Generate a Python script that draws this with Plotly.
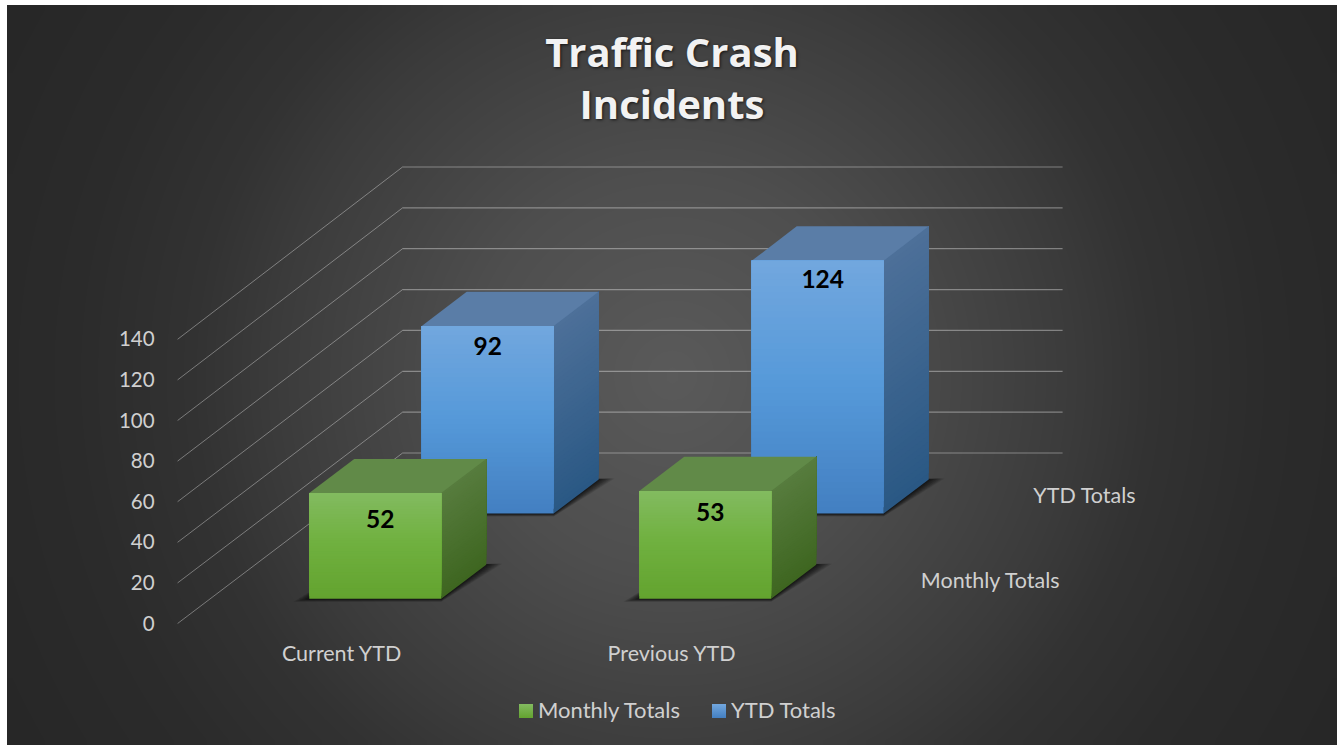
import numpy as np
import plotly.graph_objects as go

# ---- data ----
title_text = "Traffic Crash<br>Incidents"
categories = ["Current YTD", "Previous YTD"]
series_names = ["Monthly Totals", "YTD Totals"]
monthly_totals = [52, 53]
ytd_totals = [92, 124]
value_ticks = [0, 20, 40, 60, 80, 100, 120, 140]

# ---- oblique projection of the 3-D column chart ----
X0, Y0 = 177.6, 623.5      # front-left floor corner
PLOT_W = 660.0             # width of all categories
DEPTH_DX, DEPTH_DY = 225.0, -170.5
PX_FRONT, PX_BACK = 2.03, 2.043
BAR_FRAC = 0.4
DEPTH_FRAC = 0.2


def proj(cat, depth, value):
    """cat in category units, depth in 0..1, value in data units."""
    cw = PLOT_W / len(categories)
    scale = PX_FRONT + (PX_BACK - PX_FRONT) * depth
    return (X0 + cat * cw + depth * DEPTH_DX,
            Y0 + depth * DEPTH_DY - value * scale)


def css(c):
    return "rgb(%d,%d,%d)" % tuple(round(v) for v in c)


def ramp(stops, t):
    xs = [s[0] for s in stops]
    return tuple(np.interp(t, xs, [s[1][i] for s in stops]) for i in range(3))


STYLES = {
    0: dict(front=[(0, (131, 187, 96)), (.45, (112, 177, 64)), (1, (99, 163, 47))],
            side=[(0, (87, 124, 62)), (1, (62, 102, 32))],
            top=(97, 138, 72)),
    1: dict(front=[(0, (114, 167, 222)), (.5, (85, 153, 217)), (1, (67, 127, 193))],
            side=[(0, (77, 112, 153)), (1, (42, 88, 132))],
            top=(90, 125, 167)),
}

fig = go.Figure()

# ---- background radial gradient ----
bgx = np.linspace(12, 1332, 133)
bgy = np.linspace(10, 740, 74)
gx, gy = np.meshgrid(bgx, bgy)
r = np.hypot(gx - 672, gy - 375)
bgz = np.interp(r, [0, 200, 400, 480, 600, 780], [90, 78, 59, 50, 43, 38])
fig.add_trace(go.Heatmap(x=bgx, y=bgy, z=bgz, zmin=0, zmax=255, zsmooth="best",
                         colorscale=[[0, "black"], [1, "white"]], showscale=False,
                         hoverinfo="skip"))


def poly(pts, color):
    xs = [p[0] for p in pts] + [pts[0][0]]
    ys = [p[1] for p in pts] + [pts[0][1]]
    fig.add_trace(go.Scatter(x=xs, y=ys, mode="lines", fill="toself", fillcolor=color,
                             line=dict(color="rgba(0,0,0,0)", width=0),
                             hoverinfo="skip", showlegend=False))


def line(p, q, color="rgba(255,255,255,0.36)", width=1.0):
    fig.add_trace(go.Scatter(x=[p[0], q[0]], y=[p[1], q[1]], mode="lines",
                             line=dict(color=color, width=width),
                             hoverinfo="skip", showlegend=False))


# ---- gridlines on the side and back walls ----
for v in value_ticks:
    line(proj(0, 0, v), proj(0, 1, v))
    line(proj(0, 1, v), proj(len(categories), 1, v), width=1.2)


# ---- columns ----
def draw_bar(cat_i, ser_i, value):
    st = STYLES[ser_i]
    c0 = cat_i + (1 - BAR_FRAC) / 2
    c1 = c0 + BAR_FRAC
    d0 = (ser_i + 0.5) / len(series_names) - DEPTH_FRAC / 2 - 0.005
    d1 = d0 + DEPTH_FRAC

    # soft floor shadow
    fl, fr, br, bl = proj(c0, d0, 0), proj(c1, d0, 0), proj(c1, d1, 0), proj(c0, d1, 0)
    for k in np.linspace(1, 0.05, 16) ** 1.4:
        e, b = 16 * k, 3 * k
        poly([(fl[0] - e, fl[1] + b), (fr[0], fr[1] + b),
              (br[0] + e, br[1] - 1 * k), (bl[0], bl[1])],
             "rgba(8,8,8,0.085)")

    n = 40
    # side face: painted bottom-up, each slice reaching the top, so no seams
    for i in range(n):
        t = 1 - (i + .5) / n
        v0 = value * i / n
        poly([proj(c1, d0, v0), proj(c1, d1, v0), proj(c1, d1, value), proj(c1, d0, value)],
             css(ramp(st["side"], t)))
    # top face
    poly([proj(c0, d0, value), proj(c1, d0, value), proj(c1, d1, value), proj(c0, d1, value)],
         css(st["top"]))
    # front face
    for i in range(n):
        t = 1 - (i + .5) / n
        v0 = value * i / n
        poly([proj(c0, d0, v0), proj(c1, d0, v0), proj(c1, d0, value), proj(c0, d0, value)],
             css(ramp(st["front"], t)))


for ci, v in enumerate(ytd_totals):
    draw_bar(ci, 1, v)
for ci, v in enumerate(monthly_totals):
    draw_bar(ci, 0, v)

TXT = "#d0d0d0"
FONT = "Lato"


def text(x, y, s, size=21.5, color=TXT, pos="middle center", weight=None):
    fig.add_trace(go.Scatter(x=[x], y=[y], mode="text", text=[s], textposition=pos,
                             textfont=dict(family=FONT, size=size, color=color,
                                           weight=weight),
                             hoverinfo="skip", showlegend=False))


# ---- data labels ----
label_nudge = {(0, 0): (5, 28.5), (1, 0): (5, 23.5), (0, 1): (0, 23), (1, 1): (5, 21)}
for ser_i, vals in enumerate([monthly_totals, ytd_totals]):
    d0 = (ser_i + 0.5) / len(series_names) - DEPTH_FRAC / 2 - 0.005
    for ci, v in enumerate(vals):
        x, y = proj(ci + 0.5, d0, v)
        nx, ny = label_nudge[(ci, ser_i)]
        text(x + nx, y + ny, str(v), size=24.5, color="black", weight=700)

# ---- axis labels ----
for v in value_ticks:
    x, y = proj(0, 0, v)
    text(x - 23, y + 2, str(v), size=20.5, pos="middle left")
for ci, c in enumerate(categories):
    x, y = proj(ci + 0.5, 0, 0)
    text(x - 1, y + 32, c)
for si, s in enumerate(series_names):
    x, y = proj(len(categories), (si + 0.5) / len(series_names), 0)
    text(x + 27, y + 1.5, s, pos="middle right")

# ---- legend ----
legend_x = [526, 719]
legend_text_x = [538, 731]
legend_colors = [("rgb(131,187,96)", "rgb(99,163,47)"), ("rgb(114,167,222)", "rgb(67,127,193)")]
for i, s in enumerate(series_names):
    fig.add_trace(go.Scatter(x=[legend_x[i]], y=[711], mode="markers",
                             marker=dict(symbol="square", size=14, color=legend_colors[i][0],
                                         gradient=dict(type="vertical", color=legend_colors[i][1]),
                                         line=dict(width=0)),
                             hoverinfo="skip", showlegend=False))
    text(legend_text_x[i], 712, s, size=22, pos="middle right")

fig.update_layout(
    width=1344, height=746,
    margin=dict(l=0, r=0, t=0, b=0),
    paper_bgcolor="white", plot_bgcolor="rgba(0,0,0,0)",
    showlegend=False,
    title=dict(text=title_text, x=0.5, xanchor="center", y=0.9097, yanchor="top",
               font=dict(family="Open Sans", size=40, color="#f2f2f2", weight=700,
                         shadow="1px 1px 3px rgba(0,0,0,0.7)")),
    xaxis=dict(range=[0, 1344], visible=False, fixedrange=True),
    yaxis=dict(range=[746, 0], visible=False, fixedrange=True),
)

fig.write_html("out.html", config=dict(displayModeBar=False),
               post_script="document.body.style.margin='0';document.body.style.overflow='hidden';")
